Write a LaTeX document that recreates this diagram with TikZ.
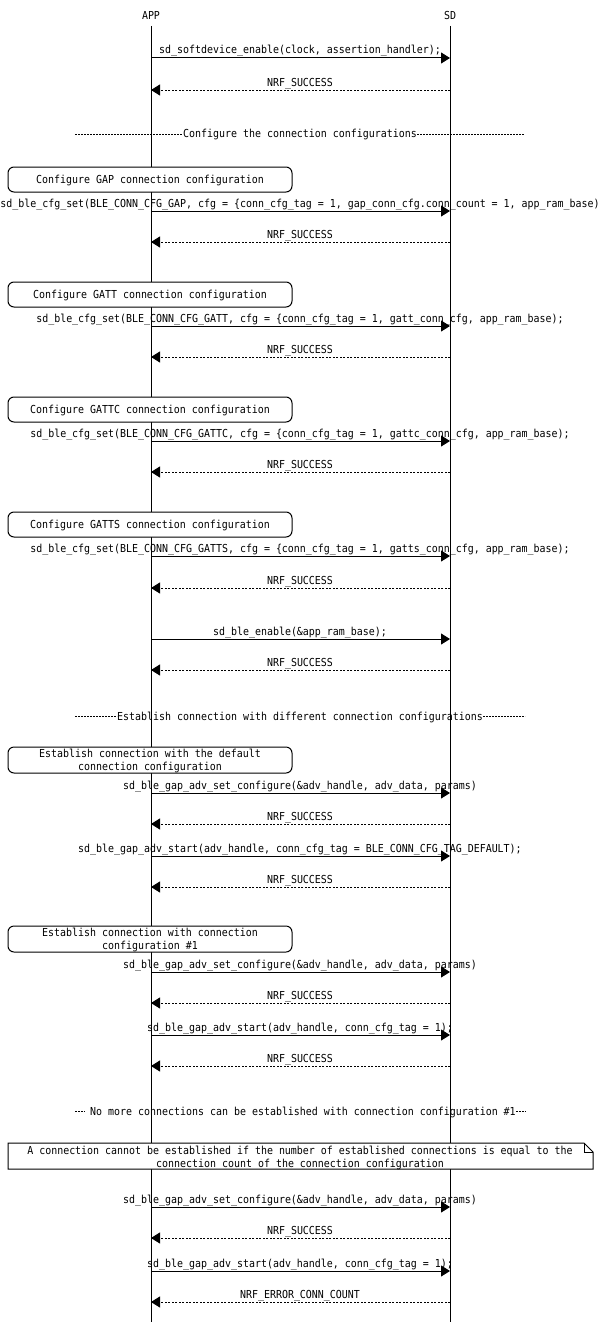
\documentclass[tikz,border=0pt]{standalone}
\usepackage{fontspec}
\setmainfont{DejaVu Sans Mono}[FakeStretch=0.905]
\usetikzlibrary{arrows.meta}
\tikzset{
  lbl/.style={font=\fontsize{11}{13}\selectfont, inner sep=0pt, anchor=base},
  ctr/.style={font=\fontsize{11}{13}\selectfont, inner sep=0pt, align=center},
  lifeline/.style={line width=1pt},
  call/.style={line width=1pt, -{Triangle[length=9pt,width=11pt]}},
  ret/.style={line width=1pt, dash pattern=on 2pt off 1.5pt, -{Triangle[length=9pt,width=11pt]}},
  divline/.style={line width=1pt, dash pattern=on 2pt off 1pt},
  rbox/.style={draw, line width=1pt, fill=white, rounded corners=6pt},
  notebox/.style={draw, line width=1pt, fill=white}
}
\newcommand\callmsg[3]{%
  \coordinate (#1a) at (151,#2);
  \coordinate (#1s) at (450,#2);
  \draw[call] (#1a) -- (#1s);
  \node[lbl] (#1t) at (300,{#2-4}) {#3};}
\newcommand\retmsg[3]{%
  \coordinate (#1a) at (151,#2);
  \coordinate (#1s) at (450,#2);
  \draw[ret] (#1s) -- (#1a);
  \node[lbl] (#1t) at (300,{#2-4}) {#3};}
\newcommand\divider[3]{%
  \node[ctr] (#1t) at (300,{#2+1}) {#3};
  \coordinate (#1l) at (75,#2);
  \coordinate (#1r) at (525,#2);
  \draw[divline] (#1l) -- (#1t.west |- #1l);
  \draw[divline] (#1t.east |- #1r) -- (#1r);}
\newcommand\cfgbox[4]{% name, top, bottom, text
  \draw[rbox] (8,#2) rectangle (292,#3);
  \node[ctr] (#1) at (150,{(#2+#3)/2+1}) {#4};}
\begin{document}
\begin{tikzpicture}[x=1pt,y=-1pt]
  \fill[white] (0,0) rectangle (600,1322);
  \useasboundingbox (0,0) rectangle (600,1322);
  % participants
  \node[ctr] (APP) at (151,15) {APP};
  \node[ctr] (SD) at (450,15) {SD};
  \coordinate (APPtop) at (151,26);
  \coordinate (APPend) at (151,1322);
  \coordinate (SDtop) at (450,26);
  \coordinate (SDend) at (450,1322);
  \draw[lifeline] (APPtop) -- (APPend);
  \draw[lifeline] (SDtop) -- (SDend);

  \callmsg{m1}{58}{sd\_softdevice\_enable(clock, assertion\_handler);}
  \retmsg{m2}{90}{NRF\_SUCCESS}

  \divider{d1}{134}{Configure the connection configurations}

  \cfgbox{b1}{167}{192}{Configure GAP connection configuration}
  \callmsg{m3}{211}{sd\_ble\_cfg\_set(BLE\_CONN\_CFG\_GAP, cfg = \{conn\_cfg\_tag = 1, gap\_conn\_cfg.conn\_count = 1, app\_ram\_base)}
  \retmsg{m4}{242}{NRF\_SUCCESS}

  \cfgbox{b2}{282}{307}{Configure GATT connection configuration}
  \callmsg{m5}{326}{sd\_ble\_cfg\_set(BLE\_CONN\_CFG\_GATT, cfg = \{conn\_cfg\_tag = 1, gatt\_conn\_cfg, app\_ram\_base);}
  \retmsg{m6}{357}{NRF\_SUCCESS}

  \cfgbox{b3}{397}{422}{Configure GATTC connection configuration}
  \callmsg{m7}{441}{sd\_ble\_cfg\_set(BLE\_CONN\_CFG\_GATTC, cfg = \{conn\_cfg\_tag = 1, gattc\_conn\_cfg, app\_ram\_base);}
  \retmsg{m8}{472}{NRF\_SUCCESS}

  \cfgbox{b4}{512}{537}{Configure GATTS connection configuration}
  \callmsg{m9}{556}{sd\_ble\_cfg\_set(BLE\_CONN\_CFG\_GATTS, cfg = \{conn\_cfg\_tag = 1, gatts\_conn\_cfg, app\_ram\_base);}
  \retmsg{m10}{588}{NRF\_SUCCESS}

  \callmsg{m11}{639}{sd\_ble\_enable(\&app\_ram\_base);}
  \retmsg{m12}{670}{NRF\_SUCCESS}

  \divider{d2}{716}{Establish connection with different connection configurations}

  \cfgbox{b5}{747}{773}{Establish connection with the default\\connection configuration}
  \callmsg{m13}{793}{sd\_ble\_gap\_adv\_set\_configure(\&adv\_handle, adv\_data, params)}
  \retmsg{m14}{824}{NRF\_SUCCESS}
  \callmsg{m15}{856}{sd\_ble\_gap\_adv\_start(adv\_handle, conn\_cfg\_tag = BLE\_CONN\_CFG\_TAG\_DEFAULT);}
  \retmsg{m16}{887}{NRF\_SUCCESS}

  \cfgbox{b6}{926}{952}{Establish connection with connection\\configuration \#1}
  \callmsg{m17}{972}{sd\_ble\_gap\_adv\_set\_configure(\&adv\_handle, adv\_data, params)}
  \retmsg{m18}{1003}{NRF\_SUCCESS}
  \callmsg{m19}{1035}{sd\_ble\_gap\_adv\_start(adv\_handle, conn\_cfg\_tag = 1);}
  \retmsg{m20}{1066}{NRF\_SUCCESS}

  \divider{d3}{1111}{\ No more connections can be established with connection configuration \#1}

  % note with folded corner
  \draw[notebox] (8,1143) -- (584,1143) -- (593,1152) -- (593,1169) -- (8,1169) -- cycle;
  \draw[line width=1pt] (584,1143) -- (584,1152) -- (593,1152);
  \node[ctr] (n1) at (300,1157.5) {A connection cannot be established if the number of established connections is equal to the\\connection count of the connection configuration};

  \callmsg{m21}{1207}{sd\_ble\_gap\_adv\_set\_configure(\&adv\_handle, adv\_data, params)}
  \retmsg{m22}{1238}{NRF\_SUCCESS}
  \callmsg{m23}{1271}{sd\_ble\_gap\_adv\_start(adv\_handle, conn\_cfg\_tag = 1);}
  \retmsg{m24}{1302}{NRF\_ERROR\_CONN\_COUNT}
\end{tikzpicture}
\end{document}
